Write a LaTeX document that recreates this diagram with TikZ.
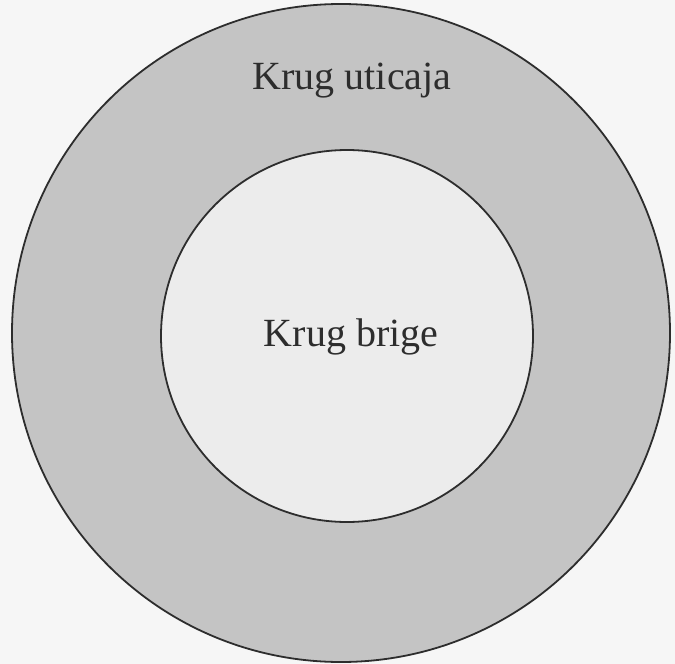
\documentclass[tikz,border=0pt]{standalone}
\usepackage{fontspec}
\setmainfont{Liberation Serif}
\definecolor{bgc}{RGB}{246,246,246}
\definecolor{ringc}{RGB}{196,196,196}
\definecolor{innerc}{RGB}{236,236,236}
\definecolor{linec}{RGB}{45,45,45}
\begin{document}
\begin{tikzpicture}[x=1pt,y=-1pt,
  circ/.style={draw=linec,line width=1.8pt},
  lbl/.style={text=linec,font=\fontsize{40}{44}\selectfont,inner sep=0pt,anchor=base}]
\fill[bgc] (0,0) rectangle (675,664);
\useasboundingbox (0,0) rectangle (675,664);
\node[circ,circle,fill=ringc,minimum size=658pt,inner sep=0pt] (outer) at (341,333) {};
\node[circ,circle,fill=innerc,minimum size=372pt,inner sep=0pt] (inner) at (347,336) {};
\node[lbl] (t1) at (352,89) {Krug uticaja};
\node[lbl] (t2) at (351,346) {Krug brige};
\end{tikzpicture}
\end{document}
